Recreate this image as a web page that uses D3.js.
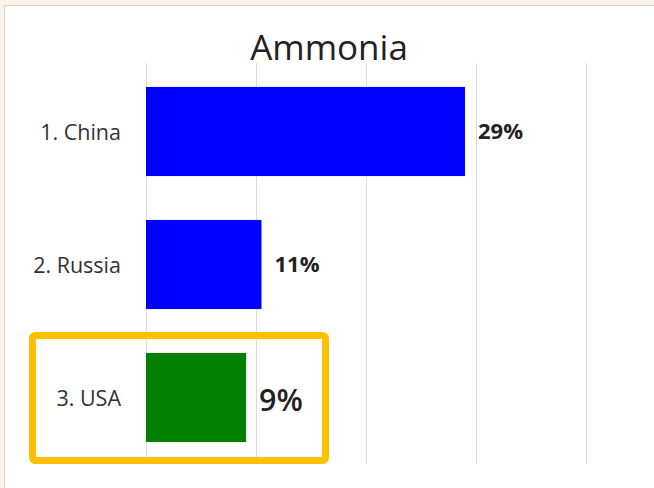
<!DOCTYPE html>
<html>
<head>
<meta charset="utf-8">
<script src="https://cdn.jsdelivr.net/npm/d3@7/dist/d3.min.js"></script>
<style>
  html, body { margin: 0; padding: 0; background: #fbf4e8; }
  svg { display: block; }
</style>
</head>
<body>
<svg id="chart" width="654" height="488"></svg>
<script>
const categories = ["1. China", "2. Russia", "3. USA"];
const values = [29, 10.5, 9.1];
const labels = ["29%", "11%", "9%"];
const highlight = [false, false, true];
const gridTicks = [0, 10, 20, 30, 40];
const title = "Ammonia";

const svg = d3.select("#chart");
const W = 654, H = 488;

// panel
svg.append("rect").attr("x", 4.5).attr("y", 5.5).attr("width", W).attr("height", H)
  .attr("fill", "#ffffff").attr("stroke", "#d6d2cc").attr("stroke-width", 1);

const x = d3.scaleLinear().domain([0, 40]).range([146, 586]);
const y = d3.scaleBand().domain(categories).range([63, 466]).paddingInner(0.33).paddingOuter(0.18);

// gridlines
svg.append("g").selectAll("line").data(gridTicks).join("line")
  .attr("x1", d => Math.round(x(d)) + 0.5).attr("x2", d => Math.round(x(d)) + 0.5)
  .attr("y1", 63).attr("y2", 464)
  .attr("stroke", "#dcdcdc").attr("stroke-width", 1);

// title
svg.append("text").attr("x", 329).attr("y", 60).attr("text-anchor", "middle")
  .attr("font-family", "Open Sans").attr("font-size", 35).attr("fill", "#222")
  .text(title);

const data = categories.map((c, i) => ({ c, v: values[i], l: labels[i], h: highlight[i] }));

// bars
svg.append("g").selectAll("rect").data(data).join("rect")
  .attr("x", x(0)).attr("y", d => y(d.c))
  .attr("width", d => x(d.v) - x(0)).attr("height", y.bandwidth())
  .attr("fill", d => d.h ? "#008000" : "#0000ff");

// category labels
svg.append("g").selectAll("text").data(data).join("text")
  .attr("x", 121).attr("y", d => y(d.c) + y.bandwidth() / 2 + 1)
  .attr("dy", "0.35em").attr("text-anchor", "end")
  .attr("font-family", "Open Sans").attr("font-size", 21.5).attr("fill", "#333")
  .text(d => d.c);

// value labels
svg.append("g").selectAll("text").data(data).join("text")
  .attr("x", d => x(d.v) + 13)
  .attr("y", d => y(d.c) + y.bandwidth() / 2 + (d.h ? 3 : 0))
  .attr("dy", "0.35em")
  .attr("font-family", "Open Sans")
  .attr("font-weight", d => d.h ? 600 : 700)
  .attr("font-size", d => d.h ? 30.5 : 22)
  .attr("fill", "#222")
  .text(d => d.l);

// highlight box around USA
const hc = categories[2];
svg.append("rect")
  .attr("x", 32.5).attr("y", y(hc) - 17.5)
  .attr("width", 293).attr("height", y.bandwidth() + 36)
  .attr("rx", 3).attr("ry", 3)
  .attr("fill", "none").attr("stroke", "#ffc000").attr("stroke-width", 7);
</script>
</body>
</html>
